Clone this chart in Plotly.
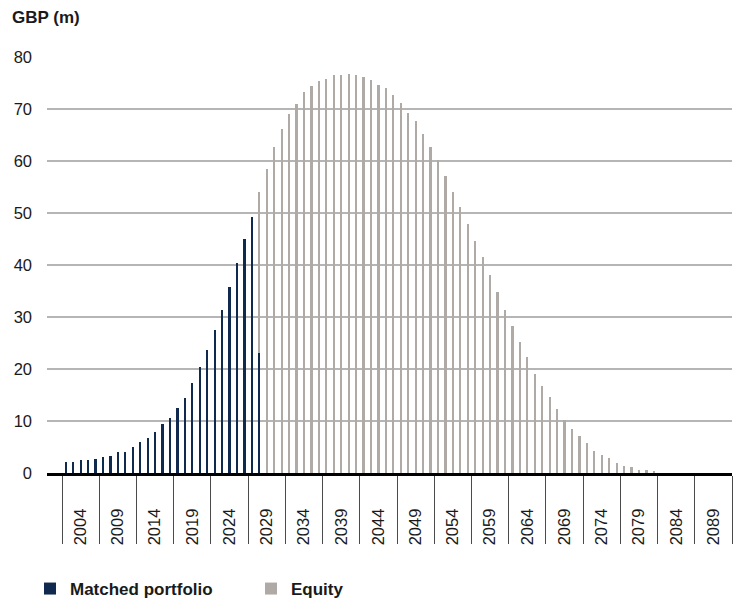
import plotly.graph_objects as go

# ---- data ----
years = list(range(2004, 2094))  # 90 yearly categories
matched_years = list(range(2004, 2031))
matched = [2.2, 2.2, 2.5, 2.5, 2.75, 3.1, 3.3, 3.95, 3.95, 5.05,
           5.95, 6.8, 7.95, 9.4, 10.5, 12.5, 14.5, 17.4, 20.3, 23.7,
           27.5, 31.4, 35.7, 40.3, 45.0, 49.3, 23.0]
equity_years = list(range(2030, 2084))
equity = [31.0, 58.4, 62.7, 66.1, 69.0, 71.0, 73.3, 74.4, 75.3, 75.8,
          76.5, 76.5, 76.7, 76.5, 76.2, 75.6, 74.7, 74.1, 72.7, 71.2,
          69.3, 67.6, 65.2, 62.7, 60.1, 57.2, 54.1, 51.2, 47.8, 44.6,
          41.5, 38.1, 34.9, 31.4, 28.3, 25.2, 22.3, 19.1, 16.8, 14.6,
          12.3, 10.2, 8.5, 7.2, 5.7, 4.3, 3.4, 2.8, 2.0, 1.4,
          1.1, 0.6, 0.6, 0.2]
label_years = list(range(2004, 2094, 5))
y_ticks = [0, 10, 20, 30, 40, 50, 60, 70, 80]

NAVY = "#0f2a4e"
GREY = "#b0aaa7"
FONT = "Liberation Sans, Arial, sans-serif"
TXT = "#1a1a1a"

fig = go.Figure()
fig.add_trace(go.Bar(x=matched_years, y=matched, name="Matched portfolio",
                     marker=dict(color=NAVY, line=dict(width=0)), width=0.3))
fig.add_trace(go.Bar(x=equity_years, y=equity, name="Equity",
                     marker=dict(color=GREY, line=dict(width=0)), width=0.3))

group_w = 5
fig.update_layout(
    barmode="stack",
    width=745, height=600,
    margin=dict(l=46.7, r=13.3, t=56.7, b=126.7, autoexpand=False),
    plot_bgcolor="white", paper_bgcolor="white",
    font=dict(family=FONT, size=16, color=TXT),
    title=dict(text="<b>GBP (m)</b>", x=12/745, xanchor="left", xref="container",
               y=1-17.5/600, yanchor="middle", yref="container",
               font=dict(family=FONT, size=17, color=TXT)),
    showlegend=True,
    legend=dict(orientation="h", xref="container", yref="container",
                x=30/745, xanchor="left", y=1-589/600, yanchor="middle",
                font=dict(family=FONT, size=17, color=TXT, weight="bold"),
                entrywidth=176, entrywidthmode="pixels",
                traceorder="normal", itemclick=False),
    xaxis=dict(
        range=[years[0] - 0.5 - 2.02, years[-1] + 0.5],
        tickmode="array",
        tickvals=[y + (group_w - 1) / 2 for y in label_years],
        ticktext=[str(y) for y in label_years],
        tickangle=-90, ticks="", ticklabelstandoff=26,
        tickfont=dict(family=FONT, size=16.5, color=TXT),
        showgrid=False, zeroline=False,
        showline=True, linecolor="black", linewidth=3,
        minor=dict(tickmode="array",
                   tickvals=[y - 0.5 for y in label_years] + [years[-1] + 0.5],
                   ticks="outside", ticklen=68, tickwidth=1, tickcolor="#4a4a4a",
                   showgrid=False),
        fixedrange=True,
    ),
    yaxis=dict(
        range=[0, 80], tickmode="array", tickvals=y_ticks,
        ticks="", ticklabelstandoff=14,
        tickfont=dict(family=FONT, size=16.5, color=TXT),
        showgrid=True, gridcolor="#b5b5b5", gridwidth=1.5,
        zeroline=False, showline=False, fixedrange=True,
    ),
    bargap=0,
)

fig.write_html("out.html")
